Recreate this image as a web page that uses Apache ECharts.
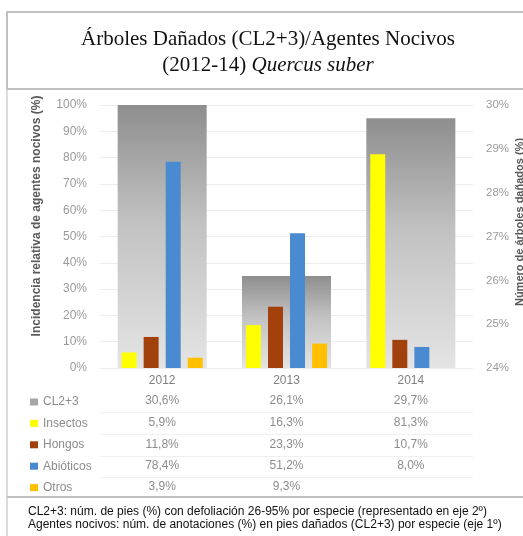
<!DOCTYPE html>
<html>
<head>
<meta charset="utf-8">
<script src="https://cdn.jsdelivr.net/npm/echarts@6/dist/echarts.min.js"></script>
<style>
html, body { margin: 0; padding: 0; background: #fff; }
#chart { width: 523px; height: 536px; }
</style>
</head>
<body>
<div id="chart"></div>
<script>
// data
const years = ['2012', '2013', '2014'];
const cl23 = [30.6, 26.1, 29.7];        // eje 2º
const insectos = [5.9, 16.3, 81.3];
const hongos = [11.8, 23.3, 10.7];
const abioticos = [78.4, 51.2, 8.0];
const otros = [3.9, 9.3, null];

const colors = {
  insectos: '#ffff00',
  hongos: '#a2410c',
  abioticos: '#4a8ad0',
  otros: '#ffc000'
};

// table rows (legend + values) y positions
const rowY = [401, 423, 445, 466, 487];
const tableColor = '#8c8c8c';

var chartDom = document.getElementById('chart');
var myChart = echarts.init(chartDom);

const fmt = v => v == null ? '' : v.toFixed(1).replace('.', ',') + '%';

const colorBar = (name, data, color) => ({
  name: name,
  type: 'bar',
  xAxisIndex: 0,
  yAxisIndex: 0,
  data: data,
  barWidth: 15,
  barGap: '47%',
  z: 3,
  itemStyle: { color: color }
});

var option = {
  animation: false,
  backgroundColor: '#fff',
  textStyle: { fontFamily: 'Liberation Sans' },
  grid: { left: 100, right: 50, top: 105, bottom: 168 },
  legend: {
    orient: 'vertical',
    left: 25,
    top: rowY[0] - 11,
    itemWidth: 8,
    itemHeight: 7,
    itemGap: 7.4,
    selectedMode: false,
    textStyle: { color: tableColor, fontSize: 12, lineHeight: 14, fontFamily: 'Liberation Sans' },
    data: [
      { name: 'CL2+3', icon: 'rect', itemStyle: { color: '#a6a6a6' } },
      { name: 'Insectos', icon: 'rect' },
      { name: 'Hongos', icon: 'rect' },
      { name: 'Abióticos', icon: 'rect' },
      { name: 'Otros', icon: 'rect' }
    ]
  },
  xAxis: [
    {
      type: 'category',
      data: years,
      axisLine: { show: false },
      axisTick: { show: false },
      axisLabel: { color: '#7f7f7f', fontSize: 12, margin: 7 }
    },
    {
      type: 'category',
      data: years,
      show: false
    }
  ],
  yAxis: [
    {
      type: 'value',
      min: 0,
      max: 100,
      interval: 10,
      axisLabel: { formatter: '{value}%', color: '#9a9a9a', fontSize: 12, margin: 13 },
      splitLine: { lineStyle: { color: '#ececec' } },
      axisLine: { show: false },
      axisTick: { show: false }
    },
    {
      type: 'value',
      min: 24,
      max: 30,
      interval: 1,
      position: 'right',
      axisLabel: { formatter: '{value}%', color: '#9a9a9a', fontSize: 11.5, margin: 13 },
      splitLine: { show: false },
      axisLine: { show: false },
      axisTick: { show: false }
    }
  ],
  series: [
    {
      name: 'CL2+3',
      type: 'bar',
      xAxisIndex: 1,
      yAxisIndex: 1,
      data: cl23,
      barWidth: 89,
      clip: true,
      z: 1,
      itemStyle: {
        color: new echarts.graphic.LinearGradient(0, 0, 0, 1, [
          { offset: 0, color: '#8e8e8e' },
          { offset: 0.45, color: '#c2c2c2' },
          { offset: 1, color: '#e4e4e4' }
        ])
      }
    },
    colorBar('Insectos', insectos, colors.insectos),
    colorBar('Hongos', hongos, colors.hongos),
    colorBar('Abióticos', abioticos, colors.abioticos),
    colorBar('Otros', otros, colors.otros)
  ]
};
option && myChart.setOption(option);

// data table values, frames and axis titles
const rows = [cl23, insectos, hongos, abioticos, otros];
const elements = [];
rows.forEach((row, r) => {
  row.forEach((v, i) => {
    const x = myChart.convertToPixel({ xAxisIndex: 0 }, years[i]);
    elements.push({
      type: 'text', x: x, y: rowY[r], silent: true,
      style: { text: fmt(v), align: 'center', verticalAlign: 'middle',
        fill: tableColor, font: '12px "Liberation Sans"' }
    });
  });
  if (r < rows.length - 1) {
    const ly = Math.round((rowY[r] + rowY[r + 1]) / 2) + 0.5;
    elements.push({
      type: 'line', silent: true,
      shape: { x1: 100, y1: ly, x2: 473, y2: ly },
      style: { stroke: '#f0f0f0', lineWidth: 1 }
    });
  }
});

elements.push(
  // title box
  {
    type: 'rect', silent: true, z: 10,
    shape: { x: 7, y: 12, width: 530, height: 77 },
    style: { fill: 'none', stroke: '#c0c0c0', lineWidth: 2 }
  },
  {
    type: 'text', x: 268, y: 26, silent: true,
    style: {
      text: '{a|Árboles Dañados (CL2+3)/Agentes Nocivos}\n{a|(2012-14) }{i|Quercus suber}',
      align: 'center',
      rich: {
        a: { font: '21px "Liberation Serif"', fill: '#111', lineHeight: 26 },
        i: { font: 'italic 21px "Liberation Serif"', fill: '#111', lineHeight: 26 }
      }
    }
  },
  // chart area and footer frames
  {
    type: 'line', silent: true,
    shape: { x1: 7, y1: 89, x2: 7, y2: 536 },
    style: { stroke: '#d0d0d0', lineWidth: 1.5 }
  },
  {
    type: 'line', silent: true,
    shape: { x1: 7, y1: 497, x2: 523, y2: 497 },
    style: { stroke: '#c0c0c0', lineWidth: 2 }
  },
  {
    type: 'text', x: 28, y: 505, silent: true,
    style: {
      text: 'CL2+3: núm. de pies (%) con defoliación 26-95% por especie (representado en eje 2º)\nAgentes nocivos: núm. de anotaciones (%) en pies dañados (CL2+3) por especie (eje 1º)',
      font: '12px "Liberation Sans"', fill: '#111', lineHeight: 13
    }
  },
  // axis titles
  {
    type: 'text', x: 37, y: 216, rotation: Math.PI / 2, silent: true,
    style: {
      text: 'Incidencia relativa de agentes nocivos (%)',
      align: 'center', verticalAlign: 'middle',
      font: 'bold 12px "Liberation Sans"', fill: '#595959'
    }
  },
  {
    type: 'text', x: 520, y: 222, rotation: Math.PI / 2, silent: true,
    style: {
      text: 'Número de árboles dañados (%)',
      align: 'center', verticalAlign: 'middle',
      font: 'bold 11px "Liberation Sans"', fill: '#595959'
    }
  }
);

myChart.setOption({ graphic: { elements: elements } });
</script>
</body>
</html>
